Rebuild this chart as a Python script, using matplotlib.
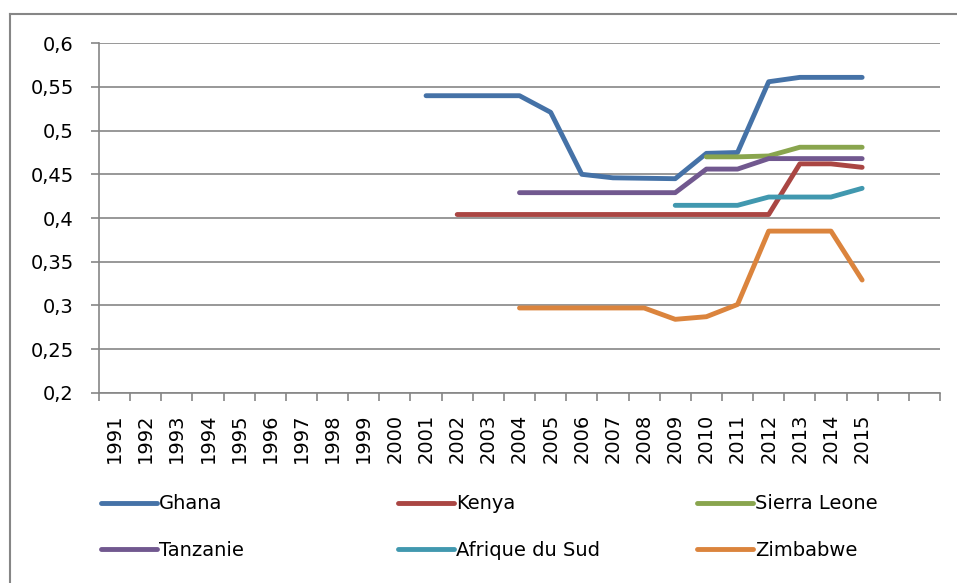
import numpy as np
import matplotlib
matplotlib.use("Agg")
import matplotlib.pyplot as plt
from matplotlib.lines import Line2D
from matplotlib.ticker import FuncFormatter

# category axis: 1991..2015 plus two empty slots, as in the source sheet
years = list(range(1991, 2016))
tick_labels = [str(y) for y in years] + ["", ""]

countries = ["Ghana", "Kenya", "Sierra Leone", "Tanzanie", "Afrique du Sud", "Zimbabwe"]
colors = ["#4572A7", "#AA4643", "#89A54E", "#71588F", "#4198AF", "#DB843D"]

# each series: first year with data, then the values from there to 2015
ghana_start = 2001
ghana = [0.540, 0.540, 0.540, 0.540, 0.521, 0.450, 0.446, 0.4455, 0.445,
         0.474, 0.475, 0.556, 0.561, 0.561, 0.561]
kenya_start = 2002
kenya = [0.404, 0.404, 0.404, 0.404, 0.404, 0.404, 0.404, 0.404, 0.404,
         0.404, 0.404, 0.462, 0.462, 0.458]
sierra_start = 2010
sierra = [0.470, 0.470, 0.471, 0.481, 0.481, 0.481]
tanzanie_start = 2004
tanzanie = [0.429, 0.429, 0.429, 0.429, 0.429, 0.429, 0.456, 0.456,
            0.468, 0.468, 0.468, 0.468]
afrique_start = 2009
afrique = [0.4145, 0.4145, 0.4145, 0.424, 0.424, 0.424, 0.434]
zimbabwe_start = 2004
zimbabwe = [0.297, 0.297, 0.297, 0.297, 0.297, 0.284, 0.287, 0.301,
            0.385, 0.385, 0.385, 0.329]

series = [
    (ghana_start, ghana),
    (kenya_start, kenya),
    (sierra_start, sierra),
    (tanzanie_start, tanzanie),
    (afrique_start, afrique),
    (zimbabwe_start, zimbabwe),
]

W, H = 957, 583
fig = plt.figure(figsize=(W / 100, H / 100), dpi=100)
ax = fig.add_axes([99 / W, 1 - 392.7 / H, (940 - 99) / W, (392.7 - 43.3) / H])

grey = "#868686"
handles = []
for name, col, (start, vals) in zip(countries, colors, series):
    i0 = years.index(start)
    x = np.arange(i0, i0 + len(vals))
    (ln,) = ax.plot(x, vals, color=col, lw=3.5, solid_capstyle="round",
                    solid_joinstyle="round", label=name, zorder=3)
    handles.append(ln)

n_cat = len(tick_labels)
ax.set_xlim(-0.5, n_cat - 0.5)
ax.set_ylim(0.2, 0.6)
ax.set_yticks(np.arange(0.2, 0.6001, 0.05))
ax.yaxis.set_major_formatter(FuncFormatter(lambda v, _: f"{round(v, 2):g}".replace(".", ",")))

# boundaries get the tick marks, centres get the labels
ax.set_xticks(np.arange(-0.5, n_cat, 1.0))
ax.set_xticklabels([])
ax.set_xticks(np.arange(n_cat), minor=True)
ax.set_xticklabels(tick_labels, minor=True, rotation=90, fontsize=14)
ax.tick_params(axis="x", which="major", length=6, width=1.2, color=grey, direction="out")
ax.tick_params(axis="x", which="minor", length=0, pad=15)
ax.tick_params(axis="y", length=6, width=1.2, color=grey, labelsize=14, pad=12)

ax.grid(axis="y", color=grey, lw=1.2, zorder=1)
ax.set_axisbelow(True)
for side in ("top", "right"):
    ax.spines[side].set_visible(False)
for side in ("left", "bottom"):
    ax.spines[side].set_color(grey)
    ax.spines[side].set_linewidth(1.2)

# legend: three equal-width columns, row-wise order
col_x = [101, 398, 697]
for k, x0 in enumerate(col_x):
    hs = [handles[k], handles[k + 3]]
    fig.legend(hs, [h.get_label() for h in hs], loc="center left",
               bbox_to_anchor=(x0 / W, 1 - 527 / H), frameon=False,
               fontsize=14, handlelength=2.9, handletextpad=0.1,
               borderpad=0, borderaxespad=0, labelspacing=1.4)

# outer chart frame (runs off the right and bottom of the image)
fig.add_artist(Line2D([10 / W, 1.0], [1 - 13.5 / H] * 2, color=grey, lw=1.5))
fig.add_artist(Line2D([10 / W] * 2, [0.0, 1 - 13.5 / H], color=grey, lw=1.5))

fig.savefig("out.png", dpi=100)
